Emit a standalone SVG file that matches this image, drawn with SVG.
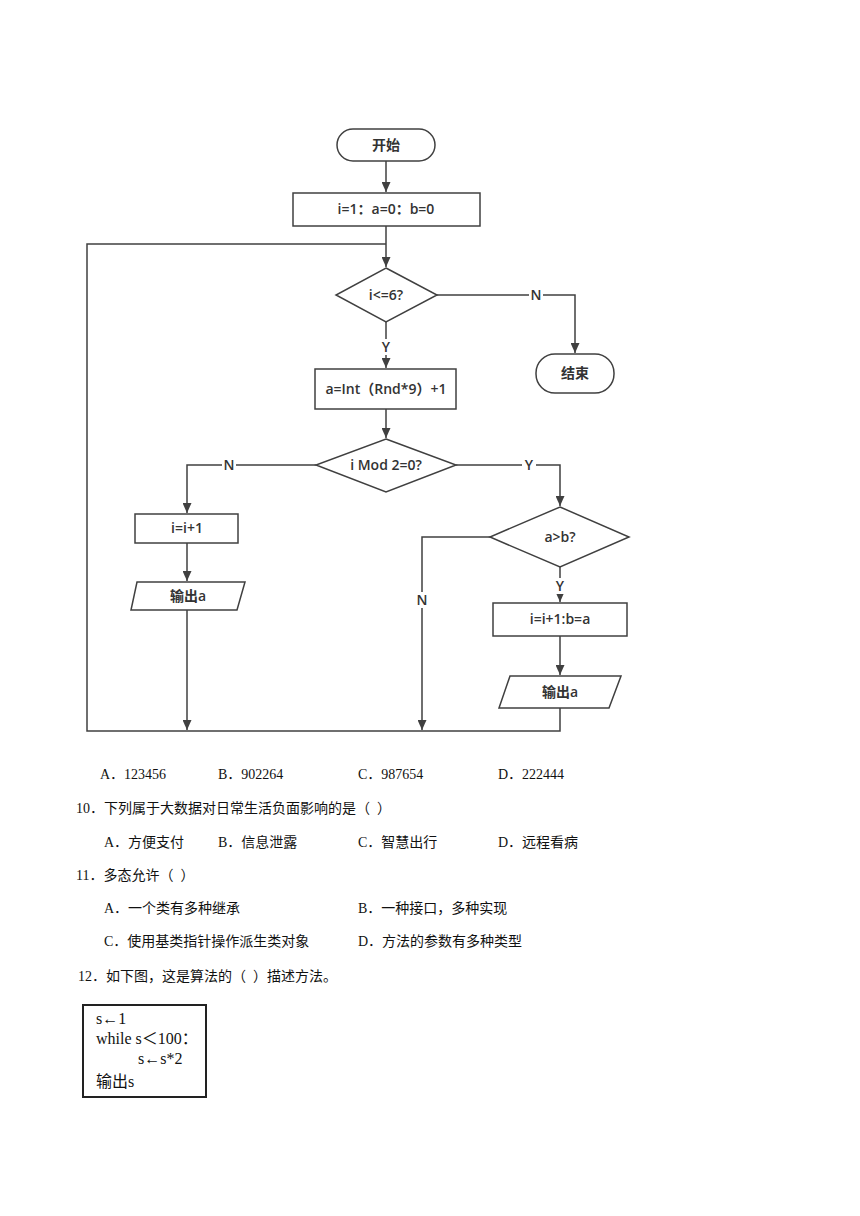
<svg xmlns="http://www.w3.org/2000/svg" width="860" height="1216" viewBox="0 0 860 1216">
<style>
.sh{fill:#fff;stroke:#404040;stroke-width:1.5}
.ln{fill:none;stroke:#404040;stroke-width:1.5}
.ft{font-family:"Open Sans","Noto Sans CJK SC",sans-serif;font-size:14px;font-weight:600;fill:#333;text-anchor:middle}
.lb{font-family:"Open Sans","Noto Sans CJK SC",sans-serif;font-size:14px;font-weight:600;fill:#333;text-anchor:middle}
.q{font-family:"Liberation Serif","Noto Sans CJK SC",serif;font-size:14px;fill:#111}
.cd{font-family:"Liberation Serif","Noto Sans CJK SC",serif;font-size:16px;fill:#111}
</style>
<defs>
<marker id="ar" markerUnits="userSpaceOnUse" markerWidth="10" markerHeight="9" refX="10" refY="4.5" orient="auto">
<path d="M0,0 L10,4.5 L0,9 z" fill="#404040"/>
</marker>
</defs>
<rect width="860" height="1216" fill="#fff"/>

<g id="connectors">
<line class="ln" x1="386" y1="161" x2="386" y2="192" marker-end="url(#ar)"/>
<line class="ln" x1="386" y1="226" x2="386" y2="267" marker-end="url(#ar)"/>
<polyline class="ln" points="560,708 560,731 87,731 87,244 386,244"/>
<polyline class="ln" points="437,295 575,295 575,353" marker-end="url(#ar)"/>
<line class="ln" x1="386" y1="322" x2="386" y2="368" marker-end="url(#ar)"/>
<line class="ln" x1="386" y1="409" x2="386" y2="438" marker-end="url(#ar)"/>
<polyline class="ln" points="316,465 187,465 187,513" marker-end="url(#ar)"/>
<polyline class="ln" points="456,465 560,465 560,506" marker-end="url(#ar)"/>
<line class="ln" x1="187" y1="543" x2="187" y2="581" marker-end="url(#ar)"/>
<line class="ln" x1="187" y1="610" x2="187" y2="730" marker-end="url(#ar)"/>
<polyline class="ln" points="490,537 422,537 422,730" marker-end="url(#ar)"/>
<line class="ln" x1="560" y1="567" x2="560" y2="602" marker-end="url(#ar)"/>
<line class="ln" x1="560" y1="636" x2="560" y2="675" marker-end="url(#ar)"/>
<rect x="529" y="287" width="14" height="16" fill="#fff"/>
<text class="lb" x="536" y="300">N</text>
<rect x="379" y="339" width="14" height="16" fill="#fff"/>
<text class="lb" x="386" y="352">Y</text>
<rect x="222" y="457" width="14" height="16" fill="#fff"/>
<text class="lb" x="229" y="470">N</text>
<rect x="522" y="457" width="14" height="16" fill="#fff"/>
<text class="lb" x="529" y="470">Y</text>
<rect x="415" y="592" width="14" height="16" fill="#fff"/>
<text class="lb" x="422" y="605">N</text>
<rect x="553" y="578" width="14" height="16" fill="#fff"/>
<text class="lb" x="560" y="591">Y</text>
</g>

<g id="start">
<rect class="sh" x="337" y="129" width="98" height="32" rx="16"/>
<text class="ft" x="386" y="150">开始</text>
</g>
<g id="init">
<rect class="sh" x="293" y="193" width="187" height="33"/>
<text class="ft" x="386" y="214">i=1：a=0：b=0</text>
</g>
<g id="cond1">
<polygon class="sh" points="386,268 437,295 386,322 336,295"/>
<text class="ft" x="386" y="300">i&lt;=6?</text>
</g>
<g id="end">
<rect class="sh" x="536" y="354" width="78" height="39" rx="19"/>
<text class="ft" x="575" y="378">结束</text>
</g>
<g id="assign">
<rect class="sh" x="315" y="369" width="141" height="40"/>
<text class="ft" x="386" y="394">a=Int（Rnd*9）+1</text>
</g>
<g id="cond2">
<polygon class="sh" points="386,439 456,465 386,492 316,465"/>
<text class="ft" x="386" y="470">i Mod 2=0?</text>
</g>
<g id="inc1">
<rect class="sh" x="135" y="514" width="103" height="29"/>
<text class="ft" x="187" y="533">i=i+1</text>
</g>
<g id="out1">
<polygon class="sh" points="137,582 245,582 237,610 131,610"/>
<text class="ft" x="188" y="601">输出a</text>
</g>
<g id="cond3">
<polygon class="sh" points="560,507 629,537 560,567 490,537"/>
<text class="ft" x="560" y="542">a&gt;b?</text>
</g>
<g id="inc2">
<rect class="sh" x="493" y="603" width="134" height="33"/>
<text class="ft" x="560" y="624">i=i+1:b=a</text>
</g>
<g id="out2">
<polygon class="sh" points="510,676 621,676 609,708 499,708"/>
<text class="ft" x="560" y="697">输出a</text>
</g>

<g id="questions">
<text class="q" x="100" y="779">A．123456</text>
<text class="q" x="218" y="779">B．902264</text>
<text class="q" x="358" y="779">C．987654</text>
<text class="q" x="498" y="779">D．222444</text>
<text class="q" x="76" y="813">10．下列属于大数据对日常生活负面影响的是（&#160;&#160;）</text>
<text class="q" x="104" y="847">A．方便支付</text>
<text class="q" x="218" y="847">B．信息泄露</text>
<text class="q" x="358" y="847">C．智慧出行</text>
<text class="q" x="498" y="847">D．远程看病</text>
<text class="q" x="76" y="880">11．多态允许（&#160;&#160;）</text>
<text class="q" x="104" y="913">A．一个类有多种继承</text>
<text class="q" x="358" y="913">B．一种接口，多种实现</text>
<text class="q" x="104" y="946">C．使用基类指针操作派生类对象</text>
<text class="q" x="358" y="946">D．方法的参数有多种类型</text>
<text class="q" x="78" y="981">12．如下图，这是算法的（&#160;&#160;）描述方法。</text>
</g>
<g id="codebox">
<rect x="83" y="1005" width="123" height="92" fill="#fff" stroke="#222" stroke-width="2"/>
<text class="cd" x="96" y="1024">s←1</text>
<text class="cd" x="96" y="1044">while&#160;s＜100：</text>
<text class="cd" x="138" y="1064">s←s*2</text>
<text class="cd" x="96" y="1087">输出s</text>
</g>
</svg>
